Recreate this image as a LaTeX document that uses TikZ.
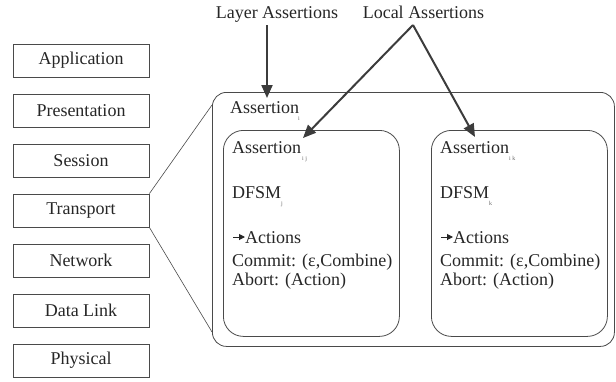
\documentclass[tikz,border=0pt]{standalone}
\usepackage{fontspec}
\setmainfont{Liberation Serif}
\usetikzlibrary{arrows.meta,calc}
\definecolor{ink}{HTML}{262626}
\definecolor{edge}{HTML}{4A4A4A}
\definecolor{pointer}{HTML}{3C3C3C}
\tikzset{
  layerbox/.style={draw=edge, line width=0.8pt, minimum width=136pt, minimum height=33pt,
    inner sep=0pt, text=ink, font=\fontsize{18}{21}\selectfont},
  frame/.style={draw=edge, line width=0.8pt, inner sep=0pt, anchor=north west},
  txt/.style={anchor=base west, inner sep=0pt, text=ink, font=\fontsize{18}{21}\selectfont},
  sub/.style={anchor=base west, inner sep=0pt, text=ink!70, font=\fontsize{6}{7}\selectfont},
  pointerline/.style={draw=pointer, line width=2pt, -{Triangle[length=13pt,width=11pt]}},
  bullet/.style={draw=ink, line width=1pt, -{Triangle[length=6pt,width=6pt]}},
  zoomline/.style={draw=edge, line width=0.6pt}
}
\begin{document}
\begin{tikzpicture}[x=1pt,y=-1pt]
\useasboundingbox (0,0) rectangle (616,381);

% OSI stack
\node[layerbox] (app)  at (81,60.5)  {Application};
\node[layerbox] (pres) at (81,110.5) {Presentation};
\node[layerbox] (sess) at (81,160.5) {Session};
\node[layerbox] (trans) at (81,210.5) {Transport};
\node[layerbox] (net)  at (81,260.5) {Network};
\node[layerbox] (dl)   at (81,310.5) {Data Link};
\node[layerbox] (phy)  at (81,360.5) {Physical};

% layer frame and the two local machines
\node[frame, rounded corners=14pt, minimum width=402pt, minimum height=254pt] (outer) at (212,92) {};
\node[frame, rounded corners=20pt, minimum width=176pt, minimum height=206pt] (left) at (223,130) {};
\node[frame, rounded corners=20pt, minimum width=176pt, minimum height=206pt] (right) at (431,130) {};

% zoom lines from Transport to the frame
\coordinate (ztop) at (212,105);
\coordinate (zbot) at (212,332);
\draw[zoomline] (trans.north east) -- (ztop);
\draw[zoomline] (trans.south east) -- (zbot);

% texts in the frame
\node[txt] (ai) at (230,113) {Assertion};
\node[sub] (ais) at (298,120) {i};

\node[txt] (aij) at (232,153) {Assertion};
\node[sub] (aijs) at (302,160) {i j};
\node[txt] (dj) at (232,198) {DFSM};
\node[sub] (djs) at (281,205) {j};
\node[txt] (actj) at (245,243) {Actions};
\node[txt] (cj) at (232,266) {Commit: (ε,Combine)};
\node[txt] (abj) at (232,285) {Abort: (Action)};

\node[txt] (aik) at (440,153) {Assertion};
\node[sub] (aiks) at (509,160) {i k};
\node[txt] (dk) at (440,198) {DFSM};
\node[sub] (dks) at (489,205) {k};
\node[txt] (actk) at (453,243) {Actions};
\node[txt] (ck) at (440,266) {Commit: (ε,Combine)};
\node[txt] (abk) at (440,285) {Abort: (Action)};

% action bullets
\draw[bullet] ($(actj.base west)+(-12,-6)$) -- ($(actj.base west)+(0,-6)$);
\draw[bullet] ($(actk.base west)+(-12,-6)$) -- ($(actk.base west)+(0,-6)$);

% top labels and pointers
\node[anchor=base, inner sep=0pt, text=ink, font=\fontsize{18}{21}\selectfont] (layer) at (277,18) {Layer Assertions};
\node[anchor=base, inner sep=0pt, text=ink, font=\fontsize{18}{21}\selectfont] (local) at (423.5,18) {Local Assertions};

\coordinate (srcA) at (267,25);
\coordinate (tipA) at (267,98);
\coordinate (apex) at (413,25);
\coordinate (tipB) at (303,138);
\coordinate (tipC) at (475,137);
\draw[pointerline] (srcA) -- (tipA);
\draw[pointerline] (apex) -- (tipB);
\draw[pointerline] (apex) -- (tipC);
\end{tikzpicture}
\end{document}
